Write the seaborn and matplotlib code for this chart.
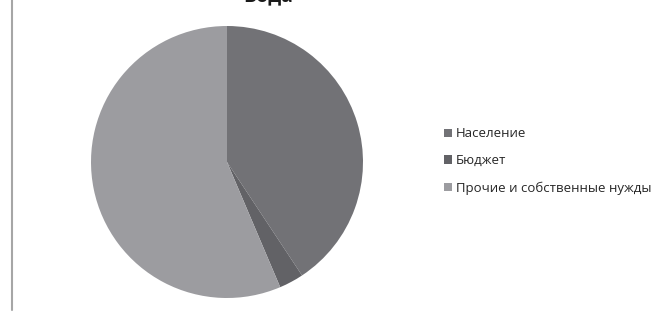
import matplotlib
matplotlib.use("Agg")
import matplotlib.pyplot as plt
import seaborn as sns
from matplotlib.lines import Line2D

# Данные
categories = ["Население", "Бюджет", "Прочие и собственные нужды"]
shares = [40.7, 2.9, 56.4]
colors = ["#727276", "#626266", "#9c9ca0"]
title = "Вода"

sns.set_theme(style="white")
plt.rcParams["font.family"] = ["Open Sans", "DejaVu Sans"]

fig = plt.figure(figsize=(6.67, 3.13), dpi=100)

# Круговая диаграмма
ax = fig.add_axes([91 / 667, 15 / 313, 272 / 667, 272 / 313])
wedges, _ = ax.pie(
    shares,
    colors=colors,
    startangle=90,
    counterclock=False,
    wedgeprops={"linewidth": 0},
)
ax.set_xlim(-1, 1)
ax.set_ylim(-1, 1)
ax.set_aspect("equal")

# Заголовок (обрезан сверху, как в оригинале)
fig.text(268 / 667, 1 - 1 / 313, title, ha="center", va="baseline",
         fontsize=14, fontweight="bold", color="#1a1a1a")

# Легенда
fig.legend(
    wedges, categories,
    loc="center left",
    bbox_to_anchor=(432 / 667, 1 - 161 / 313),
    frameon=False,
    fontsize=9.5,
    handlelength=0.6,
    handleheight=0.6,
    handletextpad=0.3,
    labelspacing=1.05,
    labelcolor="#262626",
)

# Рамка слева
fig.add_artist(Line2D([12 / 667, 12 / 667], [3 / 313, 1], transform=fig.transFigure,
                      color="#a6a6a6", linewidth=1.5))

fig.savefig("out.png", dpi=100)
